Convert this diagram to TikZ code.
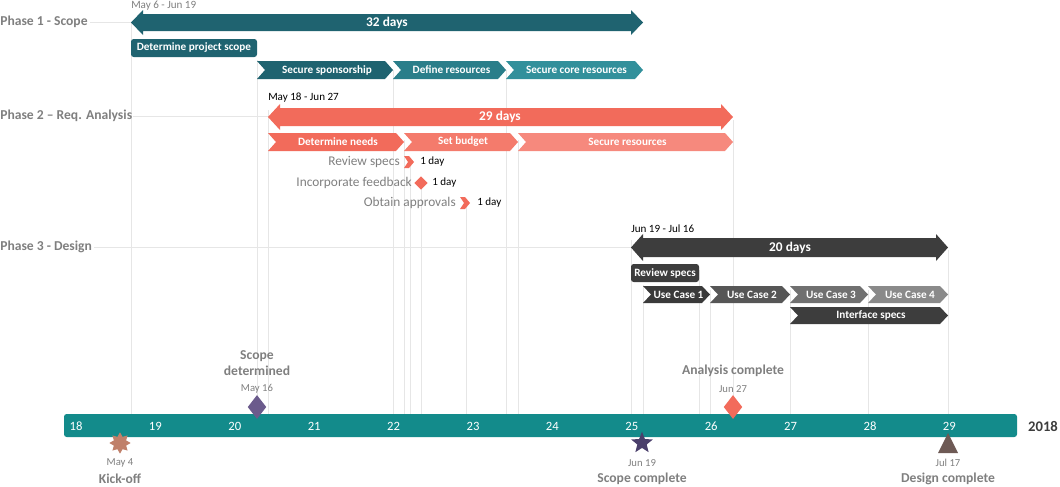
\documentclass[tikz,border=0pt]{standalone}
\usepackage{fontspec}
\setmainfont{Carlito}
\usetikzlibrary{shapes.geometric,shapes.misc}
\definecolor{tealD}{HTML}{1F6370}
\definecolor{tealM}{HTML}{2A7E8A}
\definecolor{tealL}{HTML}{32909B}
\definecolor{corA}{HTML}{F26B5B}
\definecolor{corB}{HTML}{F47B6C}
\definecolor{corC}{HTML}{F6897D}
\definecolor{gD}{HTML}{3D3D3D}
\definecolor{gA}{HTML}{3A3A3A}
\definecolor{gB}{HTML}{565656}
\definecolor{gC}{HTML}{707070}
\definecolor{gE}{HTML}{8A8A8A}
\definecolor{tline}{HTML}{138B8B}
\definecolor{lbl}{HTML}{7F7F7F}
\definecolor{grid}{HTML}{E6E6E6}
\definecolor{mPurp}{HTML}{6B5B8C}
\definecolor{mKick}{HTML}{C0806A}
\definecolor{mStar}{HTML}{4A3F6B}
\definecolor{mTri}{HTML}{6E5A55}
% chevron: name, x1, x2, ytop, ybot, color, text
\newcommand\mychev[7]{%
  \fill[#6] (#2,#4) -- (#3-8,#4) -- (#3,{(#4+#5)/2}) -- (#3-8,#5) -- (#2,#5) -- (#2+8,{(#4+#5)/2}) -- cycle;
  \node[bartxt] (#1) at ({(#2+#3)/2+2},{(#4+#5)/2}) {#7};}
% double arrow: name, x1, x2, ytop, ybot, color, text, text x
\newcommand\mydarrow[8]{%
  \fill[#6] (#2,{(#4+#5)/2}) -- (#2+12,#4-4) -- (#2+12,#4) -- (#3-12,#4) -- (#3-12,#4-4) -- (#3,{(#4+#5)/2}) -- (#3-12,#5+4) -- (#3-12,#5) -- (#2+12,#5) -- (#2+12,#5+4) -- cycle;
  \node[bigtxt] (#1) at (#8,{(#4+#5)/2}) {#7};}
\begin{document}
\begin{tikzpicture}[x=0.75pt,y=-0.75pt,
  bartxt/.style={text=white,font=\fontsize{8.4}{9}\selectfont\bfseries,inner sep=0},
  bigtxt/.style={text=white,font=\fontsize{10}{11}\selectfont\bfseries,inner sep=0},
  phase/.style={text=lbl,font=\fontsize{10.2}{11}\selectfont\bfseries,anchor=west,inner sep=0},
  date/.style={font=\fontsize{8.3}{9}\selectfont,inner sep=0,anchor=west},
  sub/.style={text=lbl,font=\fontsize{10}{11}\selectfont,inner sep=0,anchor=east},
  mdate/.style={text=lbl,font=\fontsize{8}{9}\selectfont,inner sep=0},
  mlab/.style={text=lbl,font=\fontsize{10.2}{12}\selectfont\bfseries,inner sep=0,align=center},
  tick/.style={text=white,font=\fontsize{9.5}{10}\selectfont,inner sep=0},
  gl/.style={draw=grid,line width=0.6pt}]
\useasboundingbox (0,0) rectangle (1060,486);
% grid lines
\foreach \x/\y in {131/22,257/60,268/110,393/70,404/140,410/160,421/183,466/200,506/70,518/140,631/240,643/285,699/270,710/290,733/120,790/290,868/290,948/250}
  \draw[gl] (\x,\y) -- (\x,414);
\draw[gl] (90,22) -- (131,22);
\draw[gl] (133,116) -- (268,116);
\draw[gl] (94,247) -- (631,247);
% phase labels
\node[phase] (p1) at (0,22) {Phase 1 - Scope};
\node[phase] (p2) at (0,116) {Phase 2 -- Req. Analysis};
\node[phase] (p3) at (0,247) {Phase 3 - Design};
% phase 1
\node[date,text=lbl] (d1) at (131,6) {May 6 - Jun 19};
\mydarrow{a1}{131}{643}{14}{31}{tealD}{32 days}{387}
\fill[tealD,rounded corners=2pt] (131,39) rectangle (257,57);
\node[bartxt] (t1) at (194,48) {Determine project scope};
\mychev{c11}{257}{393}{61}{79}{tealD}{Secure sponsorship}
\mychev{c12}{393}{506}{61}{79}{tealM}{Define resources}
\mychev{c13}{506}{643}{61}{79}{tealL}{Secure core resources}
% phase 2
\node[date] (d2) at (268,98) {May 18 - Jun 27};
\mydarrow{a2}{268}{733}{108}{126}{corA}{29 days}{500}
\mychev{c21}{268}{404}{133}{151}{corA}{Determine needs}
\mychev{c22}{404}{518}{133}{151}{corB}{Set budget}
\mychev{c23}{518}{733}{133}{151}{corC}{Secure resources}
\node[sub] (s1) at (400,162) {Review specs};
\fill[corA] (404,156) -- (409,156) -- (414,162) -- (409,168) -- (404,168) -- (408,162) -- cycle;
\node[date] (s1d) at (420,162) {1 day};
\node[sub] (s2) at (412,183) {Incorporate feedback};
\node[diamond,fill=corA,minimum width=10pt,minimum height=10pt,inner sep=0] (s2m) at (421,183) {};
\node[date] (s2d) at (432,183) {1 day};
\node[sub] (s3) at (456,203) {Obtain approvals};
\fill[corA] (460,197) -- (465,197) -- (470,203) -- (465,209) -- (460,209) -- (464,203) -- cycle;
\node[date] (s3d) at (477,203) {1 day};
% phase 3
\node[date] (d3) at (631,229) {Jun 19 - Jul 16};
\mydarrow{a3}{631}{948}{238}{257}{gD}{20 days}{790}
\fill[gD,rounded corners=2pt] (631,264) rectangle (699,282);
\node[bartxt] (t3) at (665,273) {Review specs};
\mychev{c31}{643}{710}{286}{303}{gA}{Use Case 1}
\mychev{c32}{710}{790}{286}{303}{gB}{Use Case 2}
\mychev{c33}{790}{868}{286}{303}{gC}{Use Case 3}
\mychev{c34}{868}{948}{286}{303}{gE}{Use Case 4}
\mychev{c35}{790}{948}{307}{324}{gD}{Interface specs}
% timeline
\fill[tline,rounded corners=2pt] (64,414) rectangle (1017,437);
\foreach \n [count=\i from 0] in {18,...,29}
  \node[tick] (tk\n) at ({76+79.4*\i},426) {\n};
\node[inner sep=0,font=\fontsize{11}{12}\selectfont\bfseries,text=gD] (yr) at (1043,426) {2018};
% milestones
\node[diamond,fill=mPurp,minimum width=14pt,minimum height=18pt,inner sep=0] (m1) at (257,407) {};
\node[mdate] (m1d) at (257,389) {May 16};
\node[mlab] (m1l) at (257,363) {Scope\\determined};
\node[diamond,fill=corA,minimum width=14pt,minimum height=18pt,inner sep=0] (m2) at (733,407) {};
\node[mdate] (m2d) at (733,389) {Jun 27};
\node[mlab] (m2l) at (733,371) {Analysis complete};
\node[star,star points=8,star point ratio=1.6,fill=mKick,minimum size=16pt,inner sep=0] (m3) at (120,443) {};
\node[mdate] (m3d) at (120,463) {May 4};
\node[mlab] (m3l) at (120,479) {Kick-off};
\node[star,star points=5,star point ratio=2.3,fill=mStar,minimum size=17pt,inner sep=0] (m4) at (642,443) {};
\node[mdate] (m4d) at (642,463) {Jun 19};
\node[mlab] (m4l) at (642,479) {Scope complete};
\fill[mTri] (948,433) -- (958,453) -- (938,453) -- cycle;
\node[mdate] (m5d) at (948,463) {Jul 17};
\node[mlab] (m5l) at (948,479) {Design complete};
\end{tikzpicture}
\end{document}
